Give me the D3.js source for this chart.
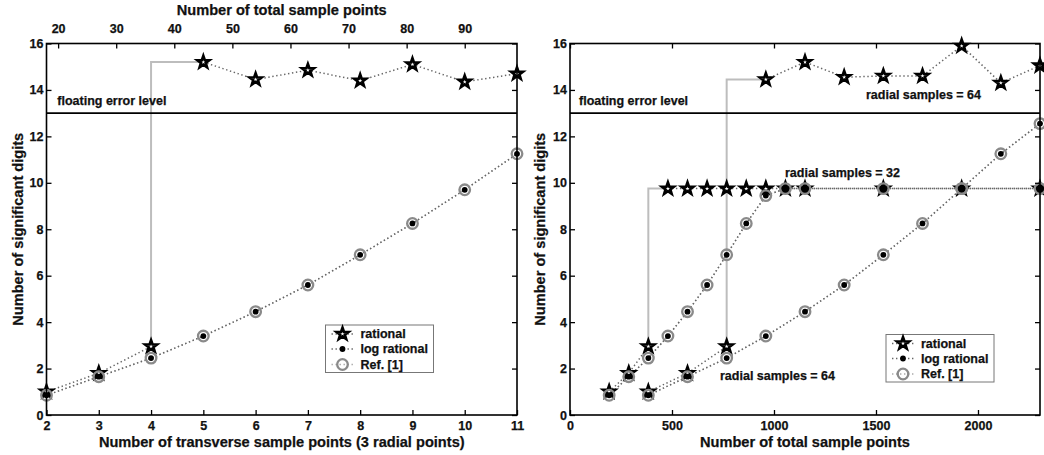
<!DOCTYPE html>
<html><head><meta charset="utf-8">
<script src="https://cdn.jsdelivr.net/npm/d3@7"></script>
<style>
body{margin:0;background:#fff}
text{font-family:"Liberation Sans",Arial,Helvetica,sans-serif;font-weight:bold;fill:#111;stroke:#111;stroke-width:0.25px}
</style>
</head><body>
<svg id="c" width="1044" height="455"></svg>
<script>
// ---------- data ----------
const yTicks = [0,2,4,6,8,10,12,14,16];
const leftXTicks = [2,3,4,5,6,7,8,9,10,11];
const leftTopTicks = [20,30,40,50,60,70,80,90];
const rightXTicks = [0,500,1000,1500,2000];
const floatLevel = 13;

// left panel: transverse sample points (3 radial points)
const leftX = [2,3,4,5,6,7,8,9,10,11];
const leftRational = [1.0,1.8,2.95,15.2,14.45,14.85,14.4,15.1,14.35,14.7];
const leftLog = [0.85,1.65,2.45,3.4,4.45,5.6,6.9,8.25,9.7,11.25];
const leftRef = [0.85,1.65,2.45,3.4,4.45,5.6,6.9,8.25,9.7,11.25];
const leftJump = 2;

// right panel, radial samples = 32
const r32X = [192,288,384,480,576,672,768,864,960,1056,1152,1536,1920,2304];
const r32Rational = [1.0,1.8,2.95,9.75,9.75,9.75,9.75,9.75,9.75,9.75,9.75,9.75,9.75,9.75];
const r32Log = [0.85,1.65,2.45,3.4,4.45,5.6,6.9,8.25,9.45,9.75,9.75,9.75,9.75,9.75];
const r32Ref = [0.85,1.65,2.45,3.4,4.45,5.6,6.9,8.25,9.45,9.75,9.75,9.75,9.75,9.75];
const r32Jump = 2;

// right panel, radial samples = 64
const r64X = [384,576,768,960,1152,1344,1536,1728,1920,2112,2304];
const r64Rational = [1.0,1.8,2.95,14.45,15.2,14.55,14.6,14.6,15.9,14.3,15.05];
const r64Log = [0.85,1.65,2.45,3.4,4.45,5.6,6.9,8.25,9.75,11.25,12.55];
const r64Ref = [0.85,1.65,2.45,3.4,4.45,5.6,6.9,8.25,9.75,11.25,12.55];
const r64Jump = 2;

const legendLabels = ["rational","log rational","Ref. [1]"];

// ---------- drawing ----------
const svg = d3.select("#c");
const y = d3.scaleLinear().domain([0,16]).range([415,43.5]);
const xL = d3.scaleLinear().domain([2,11]).range([46.5,517]);
const xLT = d3.scaleLinear().domain([18,99]).range([46.5,517]);
const xR = d3.scaleLinear().domain([0,2304]).range([570,1040]);

const DOT = "#666", REFDOT = "#aaa", STEP = "#bdbdbd", RING = "#8a8a8a";

function starPath(R){
  const r = R*0.40, pts=[];
  for(let i=0;i<10;i++){
    const a = -Math.PI/2 + i*Math.PI/5, rr = i%2?r:R;
    pts.push([rr*Math.cos(a), rr*Math.sin(a)]);
  }
  return "M"+pts.map(p=>p.join(",")).join("L")+"Z";
}
const STAR = starPath(6.2);

function drawStar(g,cx,cy){
  g.append("path").attr("d",STAR).attr("transform",`translate(${cx},${cy})`)
   .attr("fill","#fff").attr("stroke","#000").attr("stroke-width",2.7).attr("stroke-linejoin","miter");
}
function drawDot(g,cx,cy){ g.append("circle").attr("cx",cx).attr("cy",cy).attr("r",2.9).attr("fill","#000"); }
function drawRing(g,cx,cy){ g.append("circle").attr("cx",cx).attr("cy",cy).attr("r",5.3).attr("fill","none").attr("stroke",RING).attr("stroke-width",2.3); }

function dotted(g,pts,color){
  g.append("path").attr("d",d3.line()(pts)).attr("fill","none")
   .attr("stroke",color).attr("stroke-width",1.5).attr("stroke-dasharray","1.4,2.6");
}

function series(p, x, xs, rat, log, ref, jump){
  const P = (arr,i)=>[x(xs[i]), y(arr[i])];
  const idx = d3.range(xs.length);
  const low = idx.filter(i=>i<=jump), high = idx.filter(i=>i>jump);
  dotted(p, idx.map(i=>P(ref,i)), REFDOT);
  dotted(p, idx.map(i=>P(log,i)), DOT);
  dotted(p, low.map(i=>P(rat,i)), DOT);
  dotted(p, high.map(i=>P(rat,i)), DOT);
  p.append("path").attr("d", d3.line().curve(d3.curveStepBefore)([P(rat,jump),P(rat,jump+1)]))
   .attr("fill","none").attr("stroke",STEP).attr("stroke-width",2);
  return ()=>{
    idx.forEach(i=>drawStar(p,...P(rat,i)));
    idx.forEach(i=>drawDot(p,...P(log,i)));
    idx.forEach(i=>drawRing(p,...P(ref,i)));
  };
}

function frame(g,x0,x1){
  g.append("rect").attr("x",x0).attr("y",y(16)).attr("width",x1-x0).attr("height",y(0)-y(16))
   .attr("fill","none").attr("stroke","#000").attr("stroke-width",1.6);
  g.append("line").attr("x1",x0).attr("x2",x1).attr("y1",y(floatLevel)).attr("y2",y(floatLevel))
   .attr("stroke","#000").attr("stroke-width",1.6);
}

function styleAxis(sel){
  sel.select(".domain").remove();
  sel.selectAll(".tick line").attr("stroke","#000").attr("stroke-width",1.3);
  sel.selectAll("text").attr("font-size","12.5px").attr("fill","#111")
     .attr("font-family",'"Liberation Sans",Arial,sans-serif').attr("font-weight","bold");
}

function yAxes(g,x0,x1){
  g.append("g").attr("transform",`translate(${x0},0)`)
   .call(d3.axisLeft(y).tickValues(yTicks).tickSize(-5).tickPadding(3)).call(styleAxis);
  g.append("g").attr("transform",`translate(${x1},0)`)
   .call(d3.axisRight(y).tickValues(yTicks).tickSize(-5).tickFormat("")).call(styleAxis);
}

function addText(g,str,x,yy,size,anchor,rot){
  const t = g.append("text").attr("x",x).attr("y",yy).attr("font-size",size+"px")
    .attr("text-anchor",anchor||"start").text(str);
  if(rot) t.attr("transform",`rotate(${rot},${x},${yy})`);
  return t;
}

function legend(g,lx,ly){
  const lg = g.append("g").attr("transform",`translate(${lx},${ly})`);
  lg.append("rect").attr("x",0).attr("y",0).attr("width",108).attr("height",47.5)
    .attr("fill","#fff").attr("stroke","#777").attr("stroke-width",1);
  const rows=[9,24,39.5];
  const colors=[DOT,DOT,REFDOT];
  rows.forEach((ry,i)=>{
    dotted(lg,[[6,ry],[28,ry]],colors[i]);
    if(i===0) drawStar(lg,17,ry);
    if(i===1) drawDot(lg,17,ry);
    if(i===2) drawRing(lg,17,ry);
    addText(lg,legendLabels[i],35,ry+4.3,12.5);
  });
}

const fmt = d3.format("d");

// ---- left panel ----
{
  const x0=xL(2), x1=xL(11);
  const g = svg.append("g"), plot = g.append("g");
  const markers = series(plot, xL, leftX, leftRational, leftLog, leftRef, leftJump);
  frame(g,x0,x1);
  markers();
  g.append("g").attr("transform",`translate(0,${y(0)})`)
   .call(d3.axisBottom(xL).tickValues(leftXTicks).tickFormat(fmt).tickSize(-5).tickPadding(6.5)).call(styleAxis);
  g.append("g").attr("transform",`translate(0,${y(16)})`)
   .call(d3.axisTop(xLT).tickValues(leftTopTicks).tickFormat(fmt).tickSize(-5).tickPadding(11)).call(styleAxis);
  yAxes(g,x0,x1);
  addText(g,"floating error level",57.3,105,12.5);
  addText(g,"Number of total sample points",(x0+x1)/2,15,14.6,"middle");
  addText(g,"Number of transverse sample points (3 radial points)",(x0+x1)/2,446.5,14.6,"middle");
  addText(g,"Number of significant digits",22.5,(y(0)+y(16))/2,14.6,"middle",-90);
  legend(g,325.5,325);
}

// ---- right panel ----
{
  const x0=xR(0), x1=xR(2304);
  const g = svg.append("g"), plot = g.append("g");
  const m32 = series(plot, xR, r32X, r32Rational, r32Log, r32Ref, r32Jump);
  const m64 = series(plot, xR, r64X, r64Rational, r64Log, r64Ref, r64Jump);
  frame(g,x0,x1);
  m32(); m64();
  g.append("g").attr("transform",`translate(0,${y(0)})`)
   .call(d3.axisBottom(xR).tickValues(rightXTicks).tickFormat(fmt).tickSize(-5).tickPadding(6.5)).call(styleAxis);
  g.append("g").attr("transform",`translate(0,${y(16)})`)
   .call(d3.axisTop(xR).tickValues(rightXTicks).tickSize(-5).tickFormat("")).call(styleAxis);
  yAxes(g,x0,x1);
  addText(g,"floating error level",579,105,12.5);
  addText(g,"radial samples = 64",866,98.7,12.5);
  addText(g,"radial samples = 32",785,176.7,12.5);
  addText(g,"radial samples = 64",720,380.3,12.5);
  addText(g,"Number of total sample points",(x0+x1)/2,446.5,14.6,"middle");
  addText(g,"Number of significant digits",545,(y(0)+y(16))/2,14.6,"middle",-90);
  legend(g,886,334.5);
}
</script>
</body></html>
